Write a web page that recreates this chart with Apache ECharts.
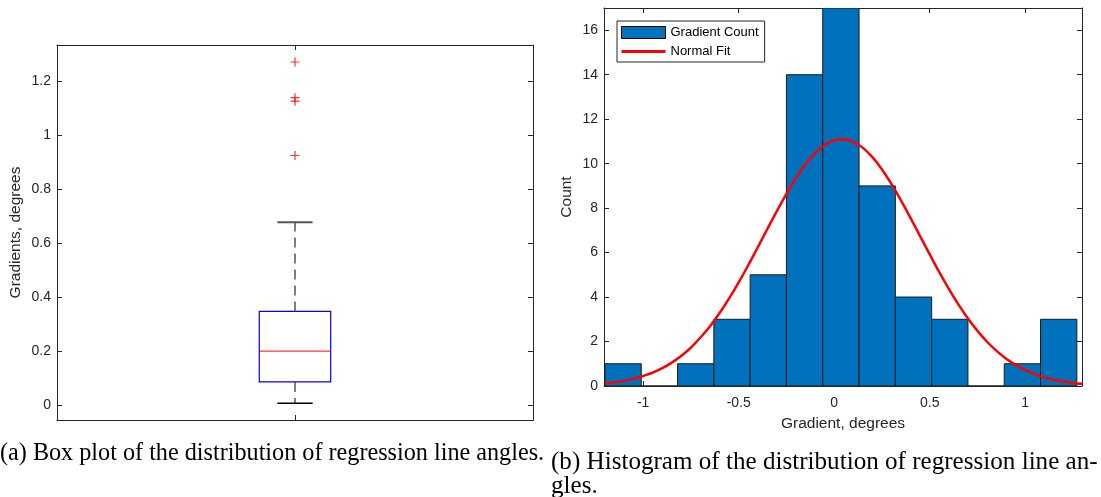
<!DOCTYPE html>
<html>
<head>
<meta charset="utf-8">
<script src="https://cdn.jsdelivr.net/npm/echarts@6/dist/echarts.min.js"></script>
<style>
    html, body { margin: 0; padding: 0; background: #fff; }
    #chart { width: 1101px; height: 497px; }
</style>
</head>
<body>
<div id="chart"></div>
<script>
// box plot: lower whisker, q1, median, q3, upper whisker
const boxStats = [0.007, 0.086, 0.200, 0.347, 0.677];
const outliers = [1.270, 1.138, 1.125, 0.924];

// histogram bins
const binEdges = [-1.2, -1.01, -0.82, -0.63, -0.44, -0.25, -0.06, 0.13, 0.32, 0.51, 0.70, 0.89, 1.08, 1.27];
const binCounts = [1, 0, 1, 3, 5, 14, 17, 9, 4, 3, 0, 1, 3];

// normal fit curve, every 0.05
const fitX = [-1.2, -1.15, -1.1, -1.05, -1.0, -0.95, -0.9, -0.85, -0.8, -0.75, -0.7, -0.65, -0.6, -0.55, -0.5, -0.45, -0.4, -0.35, -0.3, -0.25, -0.2, -0.15, -0.1, -0.05, 0,
              0.05, 0.1, 0.15, 0.2, 0.25, 0.3, 0.35, 0.4, 0.45, 0.5, 0.55, 0.6, 0.65, 0.7, 0.75, 0.8, 0.85, 0.9, 0.95, 1.0, 1.05, 1.1, 1.15, 1.2, 1.25, 1.3];
const fitY = [0.12, 0.17, 0.23, 0.32, 0.45, 0.6, 0.8, 1.05, 1.36, 1.73, 2.18, 2.69, 3.28, 3.94, 4.66, 5.43, 6.24, 7.06, 7.87, 8.64, 9.35, 9.97, 10.47, 10.84, 11.05,
              11.1, 10.98, 10.71, 10.29, 9.74, 9.08, 8.34, 7.55, 6.73, 5.92, 5.12, 4.37, 3.67, 3.04, 2.48, 1.99, 1.58, 1.23, 0.95, 0.72, 0.53, 0.39, 0.28, 0.2, 0.14, 0.1];

const axisColor = '#262626';
const tickFont = 'Liberation Sans';

// 一个坐标轴的公共设置
function frameAxis(extra) {
    return Object.assign({
        type: 'value',
        axisLine: { show: true, onZero: false, lineStyle: { color: axisColor, width: 1 } },
        axisTick: { show: true, inside: true, length: 5, lineStyle: { color: axisColor } },
        axisLabel: { show: false },
        splitLine: { show: false }
    }, extra);
}

function tickLabels(margin, showMin) {
    return {
        show: true, margin: margin, color: axisColor,
        fontSize: 14, fontFamily: tickFont,
        showMinLabel: !!showMin, showMaxLabel: false
    };
}

const nameStyle = { color: axisColor, fontSize: 15.5, fontFamily: tickFont };

const histData = binCounts.map((c, i) => [binEdges[i], binEdges[i + 1], c]);
const fitData = fitX.map((x, i) => [x, fitY[i]]);

const chart = echarts.init(document.getElementById('chart'));
chart.setOption({
    animation: false,
    grid: [
        { left: 57, top: 45, width: 476, height: 375 },
        { left: 604, top: 8, width: 478, height: 378 }
    ],
    xAxis: [
        frameAxis({ gridIndex: 0, position: 'bottom', min: 0.5, max: 1.5, interval: 0.5 }),
        frameAxis({ gridIndex: 0, position: 'top', min: 0.5, max: 1.5, interval: 0.5 }),
        frameAxis({
            gridIndex: 1, position: 'bottom', min: -1.205, max: 1.297, splitNumber: 5,
            axisLabel: tickLabels(10),
            name: 'Gradient, degrees', nameLocation: 'middle', nameGap: 30, nameTextStyle: nameStyle
        }),
        frameAxis({ gridIndex: 1, position: 'top', min: -1.205, max: 1.297, splitNumber: 5 })
    ],
    yAxis: [
        frameAxis({
            gridIndex: 0, position: 'left', min: -0.055, max: 1.333, splitNumber: 7,
            axisLabel: tickLabels(6),
            name: 'Gradients, degrees', nameLocation: 'middle', nameGap: 33, nameTextStyle: nameStyle
        }),
        frameAxis({ gridIndex: 0, position: 'right', min: -0.055, max: 1.333, splitNumber: 7 }),
        frameAxis({
            gridIndex: 1, position: 'left', min: 0, max: 17, splitNumber: 8,
            axisLabel: tickLabels(6, true),
            name: 'Count', nameLocation: 'middle', nameGap: 29, nameTextStyle: nameStyle
        }),
        frameAxis({ gridIndex: 1, position: 'right', min: 0, max: 17, splitNumber: 8 })
    ],
    legend: {
        orient: 'vertical',
        left: 617, top: 21,
        padding: [5, 6, 4, 4],
        itemWidth: 44, itemHeight: 12, itemGap: 6,
        borderColor: axisColor, borderWidth: 1,
        backgroundColor: '#fff',
        selectedMode: false,
        textStyle: { color: '#000', fontSize: 13, fontFamily: tickFont },
        data: [
            { name: 'Gradient Count', icon: 'rect', itemStyle: { color: '#0072BD', borderColor: '#000', borderWidth: 1 } },
            { name: 'Normal Fit', icon: 'path://M0,4.6H44V7.4H0Z', itemStyle: { color: '#ff0000', borderWidth: 0 } }
        ]
    },
    series: [
        {
            // MATLAB 风格的箱线图
            type: 'custom',
            xAxisIndex: 0, yAxisIndex: 0,
            data: [[1].concat(boxStats)],
            renderItem: function (params, api) {
                const x = api.value(0);
                const boxHalf = 0.075, capHalf = 0.037;
                const lw = api.value(1), q1 = api.value(2), med = api.value(3), q3 = api.value(4), uw = api.value(5);
                const pt = (vx, vy) => api.coord([vx, vy]);
                const seg = (a, b, style) => ({
                    type: 'line',
                    shape: { x1: a[0], y1: a[1], x2: b[0], y2: b[1] },
                    style: style
                });
                const dash = { stroke: '#555', lineWidth: 1.5, lineDash: [10, 6] };
                const tl = pt(x - boxHalf, q3), br = pt(x + boxHalf, q1);
                return {
                    type: 'group',
                    children: [
                        seg(pt(x, q3), pt(x, uw), dash),
                        seg(pt(x, q1), pt(x, lw), dash),
                        seg(pt(x - capHalf, uw), pt(x + capHalf, uw), { stroke: '#555', lineWidth: 2 }),
                        seg(pt(x - capHalf, lw), pt(x + capHalf, lw), { stroke: '#000', lineWidth: 1.5 }),
                        {
                            type: 'rect',
                            shape: { x: tl[0], y: tl[1], width: br[0] - tl[0], height: br[1] - tl[1] },
                            style: { fill: '#fff', stroke: '#0000ff', lineWidth: 1.2 }
                        },
                        seg(pt(x - boxHalf, med), pt(x + boxHalf, med), { stroke: '#ff0000', lineWidth: 1 })
                    ]
                };
            }
        },
        {
            type: 'scatter',
            xAxisIndex: 0, yAxisIndex: 0,
            data: outliers.map(v => [1, v]),
            symbol: 'path://M5,0L5,10M0,5L10,5',
            symbolSize: 9,
            itemStyle: { color: 'rgba(0,0,0,0)', borderColor: '#ff0000', borderWidth: 1.2 },
            z: 5
        },
        {
            name: 'Gradient Count',
            type: 'custom',
            xAxisIndex: 2, yAxisIndex: 2,
            data: histData,
            itemStyle: { color: '#0072BD', borderColor: '#000', borderWidth: 1 },
            clip: true,
            renderItem: function (params, api) {
                const a = api.coord([api.value(0), api.value(2)]);
                const b = api.coord([api.value(1), 0]);
                return {
                    type: 'rect',
                    shape: { x: a[0], y: a[1], width: b[0] - a[0], height: b[1] - a[1] },
                    style: { fill: '#0072BD', stroke: '#1a1a1a', lineWidth: 1 }
                };
            }
        },
        {
            name: 'Normal Fit',
            type: 'line',
            xAxisIndex: 2, yAxisIndex: 2,
            data: fitData,
            smooth: 0.3,
            symbol: 'none',
            lineStyle: { color: '#ff0000', width: 2.5 },
            itemStyle: { color: '#ff0000' },
            z: 5
        }
    ],
    graphic: [
        {
            type: 'text', left: 0, top: 442,
            style: { text: '(a) Box plot of the distribution of regression line angles.', font: '24.2px "Liberation Serif"', fill: '#000' }
        },
        {
            type: 'text', x: 551, y: 451, scaleX: 1.038,
            style: { text: '(b) Histogram of the distribution of regression line an-\ngles.', font: '24.2px "Liberation Serif"', lineHeight: 24, fill: '#000' }
        }
    ]
});
</script>
</body>
</html>
